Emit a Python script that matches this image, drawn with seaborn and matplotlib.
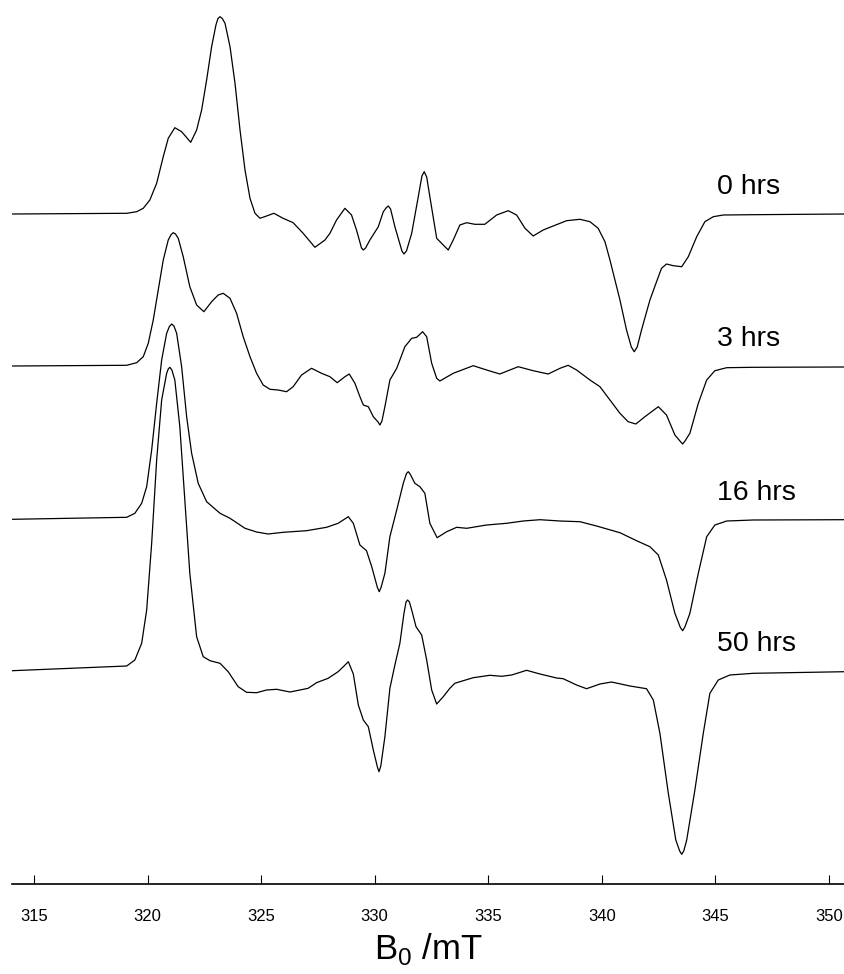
import matplotlib
matplotlib.use('Agg')
import matplotlib.pyplot as plt
import pandas as pd
import seaborn as sns

# EPR spectra (field in mT, signal in arbitrary units)
field_0h = [314.04, 319.08, 319.52, 319.81, 320.10, 320.40, 320.69, 320.91, 321.20, 321.50,
            321.90, 322.16, 322.38, 322.60, 322.82, 323.01, 323.10, 323.19, 323.29, 323.41,
            323.63, 323.85, 324.07, 324.29, 324.51, 324.73, 324.95, 325.24, 325.56, 325.97,
            326.41, 326.85, 327.37, 327.81, 328.03, 328.32, 328.69, 328.98, 329.20, 329.42,
            329.50, 329.60, 329.79, 330.16, 330.38, 330.52, 330.60, 330.70, 330.89, 331.20,
            331.29, 331.40, 331.63, 331.92, 332.08, 332.18, 332.29, 332.43, 332.73, 333.02,
            333.24, 333.46, 333.75, 334.05, 334.41, 334.85, 335.37, 335.88, 336.25, 336.62,
            336.98, 337.42, 337.86, 338.45, 339.04, 339.48, 339.84, 340.14, 340.36, 340.58,
            340.80, 341.09, 341.30, 341.43, 341.56, 341.75, 342.12, 342.44, 342.63, 342.85,
            343.15, 343.52, 343.81, 344.18, 344.54, 344.91, 345.35, 346.66, 350.71]
signal_0h = [0, 0.7, 2.3, 5.7, 14, 30.7, 57.3, 75.7, 86.3, 82.3,
             71.7, 84, 104, 134, 167.3, 189, 195.5, 197.3, 195.5, 190.7,
             167.3, 130.7, 84, 44, 15.7, 0.7, -4.3, -2, 0.7, -4.3,
             -8.7, -19.3, -33.3, -26, -19.3, -6, 5.7, -1, -16, -34,
             -36, -34, -26, -12.7, 2.3, 6.5, 8, 5, -12.7, -37,
             -40, -37, -19.3, 17.3, 38, 42.3, 37, 17.3, -24.3, -31,
             -36, -26, -11, -8.7, -10.3, -10.3, -1, 3.3, -1, -14.3,
             -22, -16, -12, -6.7, -5.3, -7.7, -14.3, -27.7, -46, -66,
             -86, -116, -133, -137.7, -133, -116, -86, -66, -54.3, -50,
             -51.7, -52.7, -42.7, -22.7, -7.7, -2.7, -1, -0.7, 0]

field_3h = [314.04, 319.08, 319.52, 319.81, 320.03, 320.25, 320.47, 320.69, 320.91, 321.04,
            321.13, 321.23, 321.35, 321.57, 321.86, 322.16, 322.48, 322.82, 323.11, 323.33,
            323.63, 323.92, 324.21, 324.51, 324.80, 325.09, 325.39, 325.75, 326.12, 326.41,
            326.78, 327.22, 327.66, 328.03, 328.35, 328.69, 328.88, 329.13, 329.35, 329.50,
            329.72, 329.94, 330.15, 330.23, 330.32, 330.45, 330.67, 330.97, 331.33, 331.63,
            331.85, 332.11, 332.29, 332.51, 332.73, 332.87, 333.46, 334.34, 334.93, 335.51,
            336.32, 336.98, 337.64, 338.16, 338.52, 338.89, 339.48, 339.92, 340.36, 340.80,
            341.16, 341.50, 341.90, 342.49, 342.85, 343.22, 343.48, 343.56, 343.65, 343.88,
            344.25, 344.62, 344.98, 345.50, 346.66, 350.71]
signal_3h = [0, 0.7, 3.3, 9.3, 22.7, 46, 76, 106, 126, 131.5,
             133.3, 132, 127.7, 109.3, 79.3, 61, 54.3, 64.3, 71, 72.7,
             67.7, 52.7, 29.3, 9.3, -7.3, -19, -23.3, -24, -25.7, -20.7,
             -9, -2.3, -7.3, -10.7, -16.7, -10.7, -8, -17.3, -30.7, -39,
             -40.7, -50.7, -56, -59, -55, -40.7, -14, -2.3, 19.3, 27.7,
             28.7, 34.3, 29.3, 2.7, -12.3, -15, -7.3, 0.3, -4, -8,
             -0.7, -4.7, -8, -2.3, 0.7, -4, -14, -20.7, -34, -47.3,
             -55.7, -58, -50.7, -40.7, -49, -69, -76, -78, -75.5, -67.3,
             -37.3, -14, -4.7, -1.7, -1.3, -1]

field_16h = [314.04, 319.08, 319.44, 319.74, 319.96, 320.18, 320.40, 320.62, 320.84, 320.96,
             321.06, 321.16, 321.28, 321.50, 321.72, 321.94, 322.23, 322.60, 323.19, 323.63,
             324.29, 324.80, 325.31, 325.97, 327.00, 327.88, 328.39, 328.84, 329.06, 329.35,
             329.64, 329.87, 330.12, 330.20, 330.28, 330.45, 330.67, 330.97, 331.26, 331.40,
             331.48, 331.56, 331.77, 331.99, 332.21, 332.43, 332.75, 333.17, 333.61, 334.05,
             334.93, 335.81, 336.54, 337.28, 338.16, 339.04, 339.77, 340.80, 341.53, 342.12,
             342.49, 342.85, 343.22, 343.46, 343.56, 343.66, 343.88, 344.25, 344.62, 344.98,
             345.50, 346.67, 350.71]
signal_16h = [0.2, 2.2, 6.2, 16.2, 32.8, 69.5, 116.2, 159.5, 186.2, 193,
              195.5, 193.5, 186.2, 152.8, 102.8, 66.2, 36.2, 17.8, 6.2, 1.2,
              -8.8, -12.5, -14.5, -12.8, -11.2, -7.8, -3.8, 2.8, -3.8, -25.5,
              -31.2, -47.2, -68, -72.2, -68, -53.8, -17.2, 9.5, 36.2, 46,
              47.8, 45.5, 36.2, 32.8, 26.2, -3.8, -18.2, -12.2, -7.8, -8.8,
              -5.5, -3.8, -1.5, -0.2, -1.5, -2.2, -6.5, -13.2, -21.2, -27.2,
              -35.5, -60.5, -93.8, -108, -111.2, -107.5, -93.8, -53.8, -17.2, -5.5,
              -1.5, -0.5, -0.2]

field_50h = [314.04, 319.08, 319.44, 319.74, 319.96, 320.18, 320.40, 320.62, 320.84, 320.91,
             320.98, 321.07, 321.20, 321.42, 321.64, 321.86, 322.16, 322.45, 322.75, 323.19,
             323.55, 323.99, 324.36, 324.80, 325.24, 325.68, 326.27, 326.71, 327.07, 327.44,
             327.95, 328.39, 328.62, 328.84, 329.06, 329.28, 329.50, 329.72, 329.94, 330.12,
             330.19, 330.27, 330.45, 330.67, 330.89, 331.11, 331.29, 331.38, 331.45, 331.53,
             331.63, 331.82, 332.07, 332.29, 332.51, 332.73, 333.02, 333.31, 333.53, 333.90,
             334.34, 335.07, 335.59, 336.03, 336.69, 337.28, 338.01, 338.30, 338.89, 339.33,
             339.92, 340.43, 341.24, 341.97, 342.27, 342.56, 342.93, 343.26, 343.43, 343.52,
             343.61, 343.74, 344.10, 344.47, 344.76, 345.13, 345.64, 346.67, 350.71]
signal_50h = [0.3, 5, 11, 27.7, 61, 127.7, 211, 271, 297.7, 302,
              303.7, 301, 291, 244.3, 171, 97.7, 34.3, 14.3, 10.3, 7.7,
              -0.7, -15.7, -21.3, -21.7, -19, -18.3, -21, -19, -17.3, -11.7,
              -7.3, -0.7, 4.3, 9.3, -3, -34, -49, -55.7, -79, -96,
              -100.7, -95, -65.7, -17.3, 6, 27.7, 57.7, 69, 71, 69,
              61, 44.3, 36, 11, -19, -33, -25.7, -17.3, -12.3, -9.7,
              -6.7, -4.3, -5.3, -4, 0.7, -3, -7, -7.7, -14, -17.7,
              -13, -11, -15, -17.7, -29, -62.3, -122.3, -169, -180, -183.3,
              -180, -169, -119, -62.3, -22.3, -9, -4, -2.3, -0.7]

labels = ['0 hrs', '3 hrs', '16 hrs', '50 hrs']

sns.set_style('white')
plt.rcParams['font.family'] = ['Liberation Sans', 'DejaVu Sans']
plt.rcParams['text.color'] = 'black'
plt.rcParams['mathtext.fontset'] = 'custom'
plt.rcParams['mathtext.rm'] = 'Liberation Sans'

fig = plt.figure(figsize=(8.45, 9.74), dpi=100)
ax = fig.add_axes([0.0142, 0.0924, 0.9858, 0.9076])

traces = [(field_0h, signal_0h), (field_3h, signal_3h),
          (field_16h, signal_16h), (field_50h, signal_50h)]
offsets = [0, -152, -305.5, -457]  # vertical stacking of the spectra

for (bx, sy), off, lab in zip(traces, offsets, labels):
    df = pd.DataFrame({'B': bx, 'S': [v + off for v in sy]})
    sns.lineplot(data=df, x='B', y='S', sort=False, estimator=None,
                 color='black', linewidth=0.9, ax=ax)
    ax.lines[-1].set_solid_joinstyle('round')
    ax.text(345.06, off + 27, lab, fontsize=20.5, va='center', ha='left',
            color='black')

ax.set_xlim(314.03, 350.71)
ax.set_ylim(-670, 214)
ax.set_xticks(range(315, 351, 5))
ax.set_yticks([])
for s in ['top', 'left', 'right']:
    ax.spines[s].set_visible(False)
ax.spines['bottom'].set_linewidth(1.2)
ax.spines['bottom'].set_color('black')
ax.tick_params(axis='x', bottom=True, direction='in', length=6.5, width=0.8,
               pad=18, labelsize=12, colors='black')
for t in ax.get_xticklabels():
    t.set_family(['Liberation Sans Narrow', 'Liberation Sans'])
ax.set_xlabel(r'B$_{\rm 0}$ /mT', fontsize=25, labelpad=5, color='black')
ax.set_ylabel('')

fig.savefig('out.png', dpi=100)
